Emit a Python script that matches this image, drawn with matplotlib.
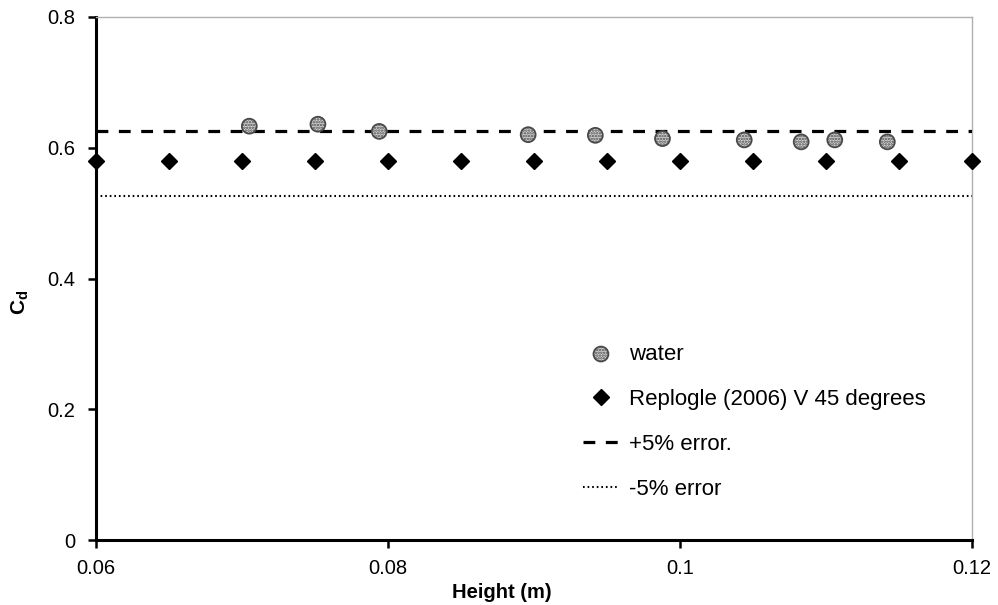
import matplotlib
matplotlib.use("Agg")
import matplotlib.pyplot as plt
import numpy as np

plt.rcParams["font.family"] = ["Liberation Sans", "DejaVu Sans"]
plt.rcParams["mathtext.fontset"] = "custom"
plt.rcParams["mathtext.rm"] = "Liberation Sans"
plt.rcParams["mathtext.bf"] = "Liberation Sans:bold"
plt.rcParams["hatch.linewidth"] = 1.2

# Measured discharge coefficients for water
water_height = [0.0705, 0.0752, 0.0794, 0.0896, 0.0942, 0.0988,
                0.1044, 0.1083, 0.1106, 0.1142]
water_cd = [0.633, 0.636, 0.625, 0.620, 0.619, 0.614,
            0.612, 0.609, 0.612, 0.609]

# Replogle (2006) reference values for a 45 degree V notch
replogle_height = [0.06, 0.065, 0.07, 0.075, 0.08, 0.085, 0.09,
                   0.095, 0.10, 0.105, 0.11, 0.115, 0.12]
replogle_cd = [0.58] * len(replogle_height)

# Error bands
band_height = [0.06, 0.12]
plus_err = [0.626, 0.626]
minus_err = [0.526, 0.526]

fig = plt.figure(figsize=(9.98, 6.05), dpi=100)
ax = fig.add_axes([96 / 998, 1 - 540 / 605, 876 / 998, 523 / 605])

ax.scatter(water_height, water_cd, s=115, facecolor="#d4d4d4",
           edgecolor="#4a4a4a", hatch="......", linewidth=1.3,
           zorder=4, clip_on=False, label="water")
ax.plot(replogle_height, replogle_cd, linestyle="none", marker="D",
        markersize=8.5, color="black", zorder=5, clip_on=False,
        label="Replogle (2006) V 45 degrees")
ax.plot(band_height, plus_err, color="black", linewidth=2.3,
        dashes=(3.7, 3.3), zorder=3, label="+5% error.")
ax.plot(band_height, minus_err, color="black", linewidth=1.5,
        dashes=(0.8, 1.4), zorder=3, label="-5% error")

ax.set_xlim(0.06, 0.12)
ax.set_ylim(0, 0.8)
ax.set_xticks([0.06, 0.08, 0.1, 0.12])
ax.set_xticklabels(["0.06", "0.08", "0.1", "0.12"])
ax.set_yticks([0, 0.2, 0.4, 0.6, 0.8])
ax.set_yticklabels(["0", "0.2", "0.4", "0.6", "0.8"])
ax.tick_params(axis="both", direction="out", length=6, width=1.8,
               labelsize=14.5)
ax.tick_params(axis="x", pad=8)
ax.tick_params(axis="y", pad=9)

for side in ("left", "bottom"):
    ax.spines[side].set_linewidth(2.2)
    ax.spines[side].set_color("black")
for side in ("top", "right"):
    ax.spines[side].set_linewidth(1.0)
    ax.spines[side].set_color("#b0b0b0")

ax.set_xlabel("Height (m)", fontsize=14.5, fontweight="bold")
ax.xaxis.set_label_coords((502 - 96) / 876, -0.082)
ax.set_ylabel(r"$\mathbf{C_d}$", fontsize=15)
ax.yaxis.set_label_coords(-0.074, (540 - 302) / 523)

ax.legend(loc="upper left", bbox_to_anchor=(0.546, 0.392), frameon=False,
          fontsize=16, labelspacing=1.08, handlelength=1.6,
          handletextpad=0.45, borderaxespad=0)

fig.savefig("out.png", dpi=100)
